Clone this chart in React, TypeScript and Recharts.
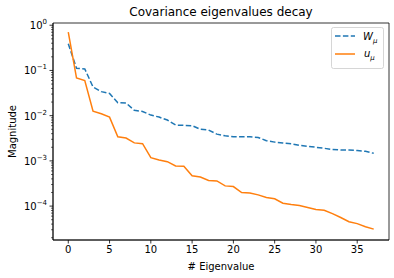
import React from "react";
import {
  LineChart,
  Line,
  XAxis,
  YAxis,
  Legend,
  ReferenceArea,
} from "recharts";

// eigenvalue index
const eigIndex = [
  0, 1, 2, 3, 4, 5, 6, 7, 8, 9, 10, 11, 12, 13, 14, 15, 16, 17, 18, 19, 20,
  21, 22, 23, 24, 25, 26, 27, 28, 29, 30, 31, 32, 33, 34, 35, 36, 37,
];

// W_mu (dashed blue)
const wMu = [
  0.39, 0.112, 0.108, 0.043, 0.034, 0.031, 0.0194, 0.019, 0.0131, 0.0124,
  0.0103, 0.0093, 0.008, 0.0062, 0.0061, 0.006, 0.005, 0.0048, 0.0039, 0.0036,
  0.0034, 0.0034, 0.0034, 0.0033, 0.0028, 0.0026, 0.0025, 0.0024, 0.0022,
  0.0021, 0.002, 0.0019, 0.00178, 0.00174, 0.00174, 0.0017, 0.00163, 0.00147,
];

// u_mu (solid orange)
const uMu = [
  0.7, 0.068, 0.06, 0.0126, 0.011, 0.0093, 0.0034, 0.0032, 0.0025, 0.0024,
  0.00118, 0.00105, 0.00096, 0.00077, 0.00076, 0.00047, 0.00044, 0.00037,
  0.00036, 0.00028, 0.00027, 0.0002, 0.000195, 0.000177, 0.000155, 0.000145,
  0.000116, 0.000108, 0.000103, 0.000093, 0.000084, 0.000081, 0.000068,
  0.000056, 0.000045, 0.000041, 0.000035, 0.000031,
];

const xTicks = [0, 5, 10, 15, 20, 25, 30, 35];
const yMajor = [1, 0.1, 0.01, 0.001, 0.0001];
const yExponents = ["0", "\u22121", "\u22122", "\u22123", "\u22124"];
const yMinorSteps = [2, 3, 4, 5, 6, 7, 8, 9];

const X_DOMAIN: [number, number] = [-1.85, 38.85];
const Y_DOMAIN: [number, number] = [1.78e-5, 1.12];

const data = eigIndex.map((i, k) => ({ i, w: wMu[k], u: uMu[k] }));

const yTicks: number[] = [];
yMajor.forEach((m) => {
  yTicks.push(m);
  yMinorSteps.forEach((s) => {
    const v = (m / 10) * s;
    if (v >= Y_DOMAIN[0]) yTicks.push(v);
  });
});

const FONT = "DejaVu Sans, sans-serif";
const BLUE = "#1f77b4";
const ORANGE = "#ff7f0e";

function YTick(props: any) {
  const { x, y, payload } = props;
  const idx = yMajor.findIndex((m) => Math.abs(m - payload.value) / m < 1e-6);
  if (idx < 0) {
    return <line x1={x - 2} x2={x} y1={y} y2={y} stroke="#000" strokeWidth={0.6} />;
  }
  return (
    <g>
      <line x1={x - 3.5} x2={x} y1={y} y2={y} stroke="#000" strokeWidth={0.8} />
      <text
        x={x - 6}
        y={y + 4}
        textAnchor="end"
        fontSize={10}
        fontFamily={FONT}
        fill="#000"
      >
        10
        <tspan dy={-5} fontSize={7}>
          {yExponents[idx]}
        </tspan>
      </text>
    </g>
  );
}

function LegendBox() {
  return (
    <svg width={53} height={42} style={{ display: "block" }}>
      <rect
        x={0.5}
        y={0.5}
        width={52}
        height={41}
        rx={2}
        fill="#fff"
        fillOpacity={0.8}
        stroke="#ccc"
        strokeWidth={0.8}
      />
      <line x1={4} x2={24} y1={9} y2={9} stroke={BLUE} strokeWidth={1.5} strokeDasharray="5.5 2.4" />
      <text x={32} y={13} fontSize={10} fontFamily={FONT} fontStyle="italic" fill="#000">
        W
        <tspan dy={2.5} fontSize={7}>μ</tspan>
      </text>
      <line x1={4} x2={24} y1={27} y2={27} stroke={ORANGE} strokeWidth={1.5} />
      <text x={33} y={30} fontSize={10} fontFamily={FONT} fontStyle="italic" fill="#000">
        u
        <tspan dy={2.5} fontSize={7}>μ</tspan>
      </text>
    </svg>
  );
}

export default function App() {
  return (
    <div style={{ position: "absolute", left: 0, top: 0, width: 394, height: 278, background: "#fff" }}>
      <LineChart
        width={394}
        height={278}
        data={data}
        margin={{ left: 0, right: 5, top: 23, bottom: 0 }}
      >
        <text
          x={221}
          y={16}
          textAnchor="middle"
          fontSize={12}
          fontFamily={FONT}
          fill="#000"
        >
          Covariance eigenvalues decay
        </text>
        <XAxis
          dataKey="i"
          type="number"
          domain={X_DOMAIN}
          ticks={xTicks}
          allowDataOverflow
          height={38}
          tickSize={3.5}
          tickMargin={2.5}
          tick={{ fontSize: 10, fontFamily: FONT, fill: "#000" }}
          tickLine={{ stroke: "#000", strokeWidth: 0.8 }}
          axisLine={{ stroke: "#000", strokeWidth: 0.8 }}
          label={{
            value: "# Eigenvalue",
            position: "insideBottom",
            offset: 8,
            fontSize: 10,
            fontFamily: FONT,
            fill: "#000",
          }}
        />
        <YAxis
          scale="log"
          type="number"
          domain={Y_DOMAIN}
          ticks={yTicks}
          allowDataOverflow
          width={53}
          tickSize={0}
          tickMargin={0}
          tickLine={false}
          interval={0}
          tick={<YTick />}
          axisLine={{ stroke: "#000", strokeWidth: 0.8 }}
          label={{
            value: "Magnitude",
            angle: -90,
            position: "insideLeft",
            offset: 12,
            style: { textAnchor: "middle" },
            fontSize: 10,
            fontFamily: FONT,
            fill: "#000",
          }}
        />
        <ReferenceArea
          x1={X_DOMAIN[0]}
          x2={X_DOMAIN[1]}
          y1={Y_DOMAIN[0]}
          y2={Y_DOMAIN[1]}
          fill="none"
          stroke="#000"
          strokeWidth={0.8}
          ifOverflow="visible"
        />
        <Line
          type="linear"
          dataKey="w"
          stroke={BLUE}
          strokeWidth={1.5}
          strokeDasharray="5.5 2.4"
          dot={false}
          isAnimationActive={false}
        />
        <Line
          type="linear"
          dataKey="u"
          stroke={ORANGE}
          strokeWidth={1.5}
          dot={false}
          isAnimationActive={false}
        />
        <Legend
          layout="vertical"
          align="center"
          verticalAlign="middle"
          content={<LegendBox />}
          wrapperStyle={{ left: 331, top: 27, width: 53, height: 42 }}
        />
      </LineChart>
    </div>
  );
}
